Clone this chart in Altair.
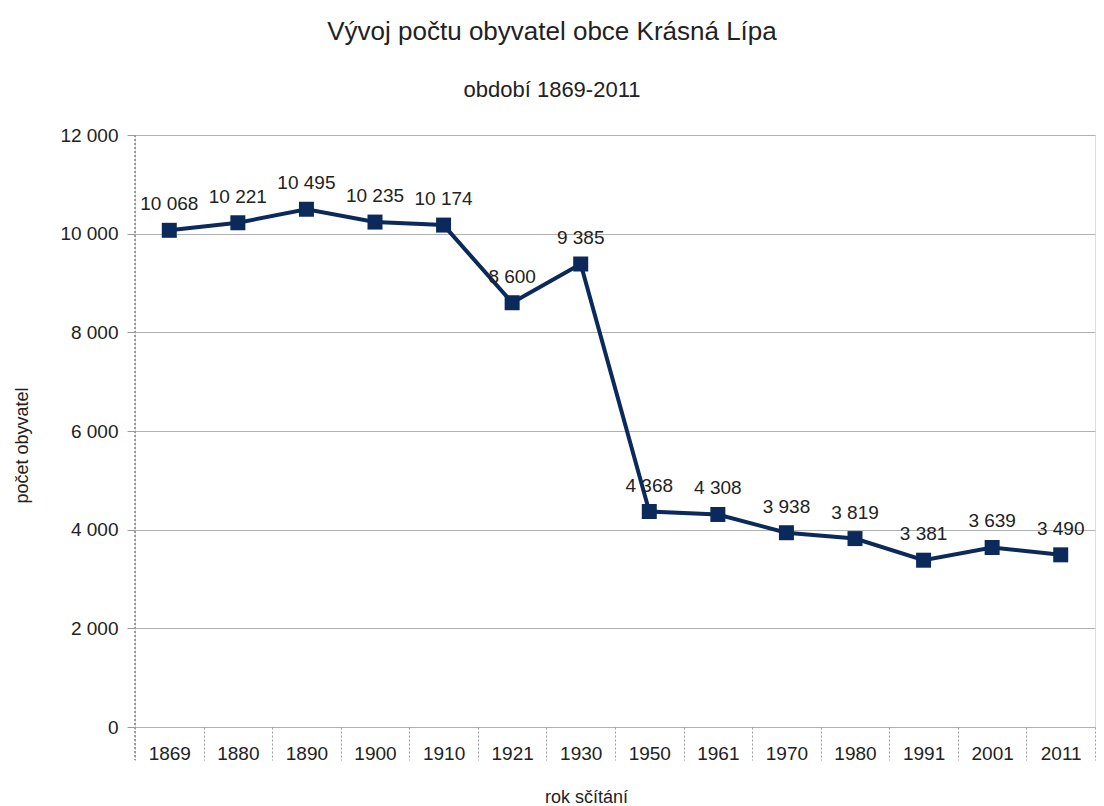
import altair as alt
import pandas as pd

years = ["1869", "1880", "1890", "1900", "1910", "1921", "1930",
         "1950", "1961", "1970", "1980", "1991", "2001", "2011"]
population = [10068, 10221, 10495, 10235, 10174, 8600, 9385,
              4368, 4308, 3938, 3819, 3381, 3639, 3490]

df = pd.DataFrame({"rok": years, "obyv": population})
df["label"] = [f"{v:,}".replace(",", " ") for v in population]

FONT = "Liberation Sans"
NAVY = "#0b2a5b"

x = alt.X("rok:N", sort=years,
          scale=alt.Scale(paddingInner=0, paddingOuter=0),
          axis=alt.Axis(title="rok sčítání", labelAngle=0, tickBand="extent",
                        tickSize=33, tickColor="#9a9a9a", tickDash=[2, 2],
                        labelPadding=-7, labelBaseline="middle",
                        labelFontSize=19, labelColor="#222",
                        labelFont=FONT, domain=False,
                        titleFont=FONT, titleFontSize=18, titleFontWeight="normal",
                        titleColor="#222", titleX=451, titleY=70,
                        titleAlign="center", titleBaseline="middle"))
y = alt.Y("obyv:Q",
          scale=alt.Scale(domain=[0, 12000]),
          axis=alt.Axis(title="počet obyvatel", values=list(range(0, 12001, 2000)),
                        labelExpr="replace(format(datum.value, ',d'), ',', ' ')",
                        tickSize=8, tickColor="#9a9a9a", labelPadding=9,
                        labelFontSize=19, labelColor="#222", labelFont=FONT,
                        domain=False, grid=True, gridColor="#b0b0b0",
                        titleFont=FONT, titleFontSize=18, titleFontWeight="normal",
                        titleColor="#222", titleX=-113, titleY=310,
                        titleAlign="center", titleBaseline="middle"))

base = alt.Chart(df).encode(x=x, y=y)

line = base.mark_line(color=NAVY, strokeWidth=4)
pts = base.mark_point(shape="square", filled=True, size=225, color=NAVY, opacity=1)
txt = base.mark_text(dy=-26, fontSize=19, font=FONT, color="#222").encode(text="label:N")

leftline = alt.Chart(df).mark_rule(color="#9a9a9a", strokeDash=[2, 2]).encode(
    x=alt.value(0), y=alt.value(0), y2=alt.value(625))

chart = alt.layer(leftline, line, pts, txt).properties(
    width=960, height=592,
    title=alt.TitleParams(text="Vývoj počtu obyvatel obce Krásná Lípa",
                          subtitle="období 1869-2011",
                          font=FONT, fontSize=26, fontWeight="normal", color="#222",
                          subtitleFont=FONT, subtitleFontSize=22, subtitleColor="#222",
                          subtitlePadding=35, offset=25, anchor="middle", dx=-63),
    autosize=alt.AutoSizeParams(type="none"),
    padding={"left": 127, "top": 127, "right": 1, "bottom": 80},
).configure_view(stroke=None).configure(background="white")

chart.save("out.html", embed_options={"renderer": "svg", "actions": False})
